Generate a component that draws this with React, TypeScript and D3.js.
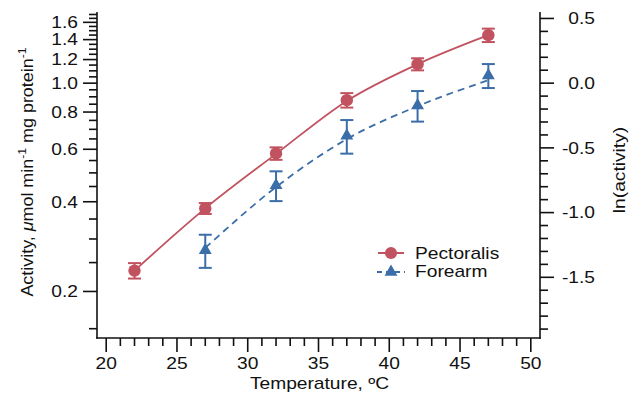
import React from "react";
import * as d3 from "d3";

const temps = [22, 27, 32, 37, 42, 47];
const pectoralis = [0.235, 0.38, 0.581, 0.877, 1.158, 1.449];
const pectoralisSE = [0.014, 0.016, 0.028, 0.049, 0.054, 0.075];
const pectoralisFit = [0.235, 0.38, 0.579, 0.872, 1.158, 1.449];

const forearmTemps = [27, 32, 37, 42, 47];
const forearm = [0.275, 0.454, 0.666, 0.842, 1.061];
const forearmSE = [0.035, 0.052, 0.086, 0.099, 0.098];
const forearmFit = [0.28, 0.448, 0.649, 0.837, 1.023];

const xMajorTicks = [20, 25, 30, 35, 40, 45, 50];
const leftMajorTicks = [0.2, 0.4, 0.6, 0.8, 1.0, 1.2, 1.4, 1.6];
const rightMajorTicks = [-1.5, -1.0, -0.5, 0.0, 0.5];

const RED = "#c1525f";
const BLUE = "#3b6ea8";
const FONT = "'Liberation Sans', Arial, Helvetica, sans-serif";

const W = 629;
const H = 404;
const L = 97;
const R = 540;
const T = 12;
const B = 338;

function Txt({ x, y, anchor = "start", rotate = 0, size = 16, sx = 1.2, children }: any) {
  return (
    <text
      transform={`translate(${x},${y}) rotate(${rotate}) scale(${sx},1)`}
      textAnchor={anchor}
      fontFamily={FONT}
      fontSize={size}
      fill="#111"
    >
      {children}
    </text>
  );
}

export default function App() {
  const x = d3.scaleLinear().domain([19.35, 50.65]).range([L, R]);
  const y = d3.scaleLog().domain([0.1396, 1.733]).range([B, T]);
  const yr = d3
    .scaleLinear()
    .domain([Math.log(0.1396), Math.log(1.733)])
    .range([B, T]);

  const xMinor = d3.range(20, 51, 1).filter((v) => v % 5 !== 0);
  const leftMinor = d3
    .range(3, 35, 1)
    .map((v) => v * 0.05)
    .filter((v) => !leftMajorTicks.some((m) => Math.abs(m - v) < 1e-6));
  const rightMinor = d3
    .range(-19, 6, 1)
    .map((v) => v / 10)
    .filter((v) => !rightMajorTicks.some((m) => Math.abs(m - v) < 1e-6));

  const line = d3
    .line<[number, number]>()
    .x((d) => x(d[0]))
    .y((d) => y(d[1]))
    .curve(d3.curveMonotoneX);

  const redFit = temps.map((t, i) => [t, pectoralisFit[i]] as [number, number]);
  const blueFit = forearmTemps.map((t, i) => [t, forearmFit[i]] as [number, number]);
  const tri = d3.symbol().type(d3.symbolTriangle).size(72)()!;
  const cap = 6.5;

  return (
    <svg
      width={W}
      height={H}
      style={{ position: "absolute", left: 0, top: 0, background: "#fff" }}
    >
      <rect width={W} height={H} fill="#fff" />
      {/* lines */}
      <path d={line(redFit)!} fill="none" stroke={RED} strokeWidth={1.8} />
      <path
        d={line(blueFit)!}
        fill="none"
        stroke={BLUE}
        strokeWidth={1.8}
        strokeDasharray="7,5"
      />
      {/* error bars + markers */}
      {temps.map((t, i) => {
        const cx = x(t);
        const y1 = y(pectoralis[i] + pectoralisSE[i]);
        const y2 = y(pectoralis[i] - pectoralisSE[i]);
        return (
          <g key={"p" + t} stroke={RED} strokeWidth={2}>
            <line x1={cx} x2={cx} y1={y1} y2={y2} />
            <line x1={cx - cap} x2={cx + cap} y1={y1} y2={y1} />
            <line x1={cx - cap} x2={cx + cap} y1={y2} y2={y2} />
            <circle cx={cx} cy={y(pectoralis[i])} r={6.2} fill={RED} stroke="none" />
          </g>
        );
      })}
      {forearmTemps.map((t, i) => {
        const cx = x(t);
        const y1 = y(forearm[i] + forearmSE[i]);
        const y2 = y(forearm[i] - forearmSE[i]);
        return (
          <g key={"f" + t} stroke={BLUE} strokeWidth={2}>
            <line x1={cx} x2={cx} y1={y1} y2={y2} />
            <line x1={cx - cap} x2={cx + cap} y1={y1} y2={y1} />
            <line x1={cx - cap} x2={cx + cap} y1={y2} y2={y2} />
            <path
              d={tri}
              transform={`translate(${cx},${y(forearm[i])})`}
              fill={BLUE}
              stroke="none"
            />
          </g>
        );
      })}

      {/* axes */}
      <g stroke="#111" strokeWidth={1.6} fill="none">
        <line x1={L} x2={L} y1={T} y2={B + 0.8} />
        <line x1={R} x2={R} y1={T} y2={B + 0.8} />
        <line x1={L - 0.8} x2={R + 0.8} y1={B} y2={B} />
        {xMajorTicks.map((v) => (
          <line key={"xm" + v} x1={x(v)} x2={x(v)} y1={B} y2={B + 14} />
        ))}
        {xMinor.map((v) => (
          <line key={"xn" + v} x1={x(v)} x2={x(v)} y1={B} y2={B + 8} />
        ))}
        {leftMajorTicks.map((v) => (
          <line key={"lm" + v} x1={L - 14} x2={L} y1={y(v)} y2={y(v)} />
        ))}
        {leftMinor.map((v) => (
          <line key={"ln" + v} x1={L - 8} x2={L} y1={y(v)} y2={y(v)} />
        ))}
        {rightMajorTicks.map((v) => (
          <line key={"rm" + v} x1={R} x2={R + 14} y1={yr(v)} y2={yr(v)} />
        ))}
        {rightMinor.map((v) => (
          <line key={"rn" + v} x1={R} x2={R + 8} y1={yr(v)} y2={yr(v)} />
        ))}
      </g>

      {/* tick labels */}
      {xMajorTicks.map((v) => (
        <Txt key={"xl" + v} x={x(v)} y={369} anchor="middle">
          {String(v)}
        </Txt>
      ))}
      {leftMajorTicks.map((v) => (
        <Txt key={"ll" + v} x={78} y={y(v) + 5.8} anchor="end">
          {d3.format(".1f")(v)}
        </Txt>
      ))}
      {rightMajorTicks.map((v) => (
        <Txt key={"rl" + v} x={595} y={yr(v) + 5.8} anchor="end">
          {d3.format(".1f")(v).replace("−", "-")}
        </Txt>
      ))}

      {/* axis titles */}
      <Txt x={(L + R) / 2 + 1} y={389} anchor="middle">
        Temperature, ºC
      </Txt>
      <Txt x={33} y={172} anchor="middle" rotate={-90} sx={1.12}>
        Activity, <tspan fontStyle="italic">μ</tspan>mol min
        <tspan dy={-7} fontSize={11}>-1</tspan>
        <tspan dy={7}>{"  mg protein"}</tspan>
        <tspan dy={-7} fontSize={11}>-1</tspan>
      </Txt>
      <Txt x={625} y={170} anchor="middle" rotate={-90}>
        ln(activity)
      </Txt>

      {/* legend */}
      <g>
        <line x1={378} x2={404} y1={253} y2={253} stroke={RED} strokeWidth={2} />
        <circle cx={391} cy={253} r={6} fill={RED} />
        <line
          x1={377}
          x2={405}
          y1={272}
          y2={272}
          stroke={BLUE}
          strokeWidth={2}
          strokeDasharray="5,4"
        />
        <path d={tri} transform="translate(391,272)" fill={BLUE} />
        <Txt x={415} y={258.5}>
          Pectoralis
        </Txt>
        <Txt x={415} y={277}>
          Forearm
        </Txt>
      </g>
    </svg>
  );
}
